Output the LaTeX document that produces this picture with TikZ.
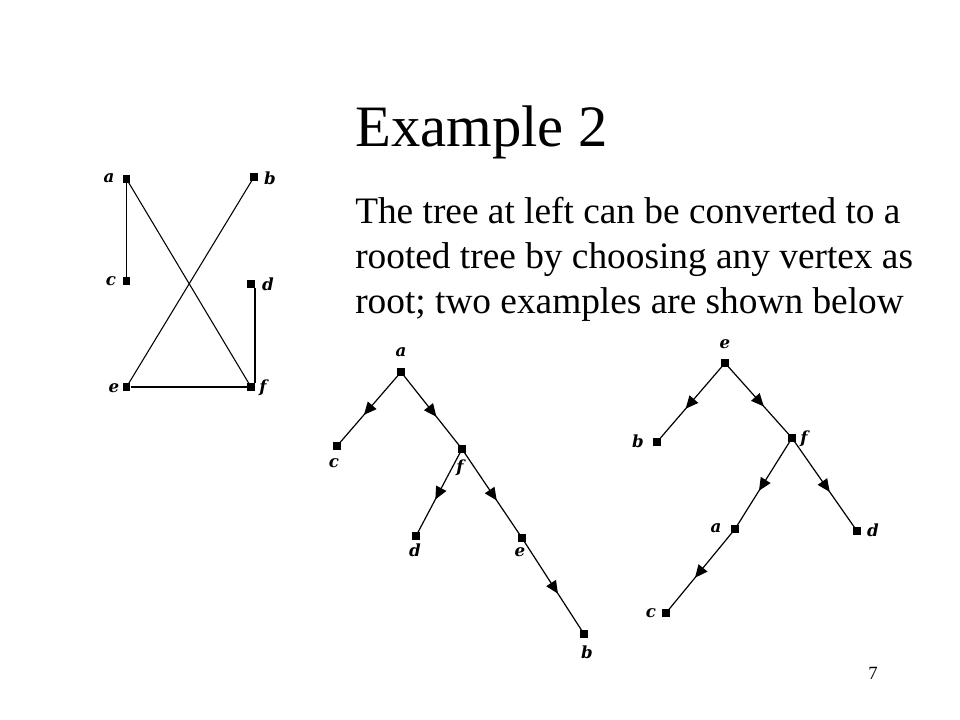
\documentclass[tikz,border=0pt]{standalone}
\usepackage{fontspec}
\setmainfont{Liberation Serif}
\newfontfamily\lblfont{DejaVu Serif}
\usetikzlibrary{arrows.meta,decorations.markings}
\tikzset{
  vtx/.style={rectangle, fill=black, draw=none, minimum size=5.8pt, inner sep=0pt},
  lbl/.style={font=\lblfont\fontsize{12.5}{14}\selectfont\bfseries\itshape, inner sep=0pt},
  thick edge/.style={line width=1.4pt},
  thin edge/.style={line width=0.8pt},
  tedge/.style={line width=0.9pt, postaction={decorate},
    decoration={markings, mark=at position 0.58 with {\arrow{Triangle[length=9.5pt,width=8.5pt]}}}},
  body/.style={font=\fontsize{28}{33}\selectfont, anchor=base west, inner sep=0pt},
}
\begin{document}
\begin{tikzpicture}[x=0.75pt,y=-0.75pt]
\useasboundingbox (0,0) rectangle (960,720);
% title and text
\node[font=\fontsize{44}{48}\selectfont, anchor=base west, inner sep=0pt] (title) at (355,146.7) {Example 2};
\node[body] (t1) at (355,224) {The tree at left can be converted to a};
\node[body] (t2) at (355,269) {rooted tree by choosing any vertex as};
\node[body] (t3) at (355,314) {root; two examples are shown below};
\node[font=\fontsize{14}{16}\selectfont, anchor=base, inner sep=0pt] (pg) at (873,679) {7};
% left graph
\node[vtx] (a) at (126.5,179) {};
\node[vtx] (b) at (254,177) {};
\node[vtx] (c) at (126.5,281) {};
\node[vtx] (d) at (251,284) {};
\node[vtx] (e) at (126.5,387) {};
\node[vtx] (f) at (251,387) {};
\draw[thick edge] (a) -- (c);
\draw[thin edge] (a.center) -- (f.center);
\draw[thin edge] (b.center) -- (e.center);
\draw[thick edge] (d.south east) -- (f.north east);
\draw[thick edge] (e) -- (f);
\node[lbl] (la) at (109,178) {a};
\node[lbl] (lb) at (270,178) {b};
\node[lbl] (lc) at (111,281) {c};
\node[lbl] (ld) at (268,284) {d};
\node[lbl] (le) at (114,388) {e};
\node[lbl] (lf) at (263,388) {f};
% tree 1 rooted at a
\node[vtx] (ra) at (401,372) {};
\node[vtx] (rc) at (337,446) {};
\node[vtx] (rf) at (462,449) {};
\node[vtx] (rd) at (416,536) {};
\node[vtx] (re) at (522,538) {};
\node[vtx] (rb) at (584,634) {};
\draw[tedge] (ra.center) -- (rc.center);
\draw[tedge] (ra.center) -- (rf.center);
\draw[tedge] (rf.center) -- (rd.center);
\draw[tedge] (rf.center) -- (re.center);
\draw[tedge] (re.center) -- (rb.center);
\node[lbl] (lra) at (401,352) {a};
\node[lbl] (lrc) at (334,463) {c};
\node[lbl] (lrf) at (460,468) {f};
\node[lbl] (lrd) at (415,550) {d};
\node[lbl] (lre) at (520,552) {e};
\node[lbl] (lrb) at (587,652) {b};
% tree 2 rooted at e
\node[vtx] (se) at (725,363) {};
\node[vtx] (sb) at (657,442) {};
\node[vtx] (sf) at (792,438) {};
\node[vtx] (sa) at (735,529) {};
\node[vtx] (sd) at (857,531) {};
\node[vtx] (sc) at (666,613) {};
\draw[tedge] (se.center) -- (sb.center);
\draw[tedge] (se.center) -- (sf.center);
\draw[tedge] (sf.center) -- (sa.center);
\draw[tedge] (sf.center) -- (sd.center);
\draw[tedge] (sa.center) -- (sc.center);
\node[lbl] (lse) at (725,344) {e};
\node[lbl] (lsb) at (638,441) {b};
\node[lbl] (lsf) at (804,439) {f};
\node[lbl] (lsa) at (716,528) {a};
\node[lbl] (lsd) at (873,530) {d};
\node[lbl] (lsc) at (651,613) {c};
\end{tikzpicture}
\end{document}
